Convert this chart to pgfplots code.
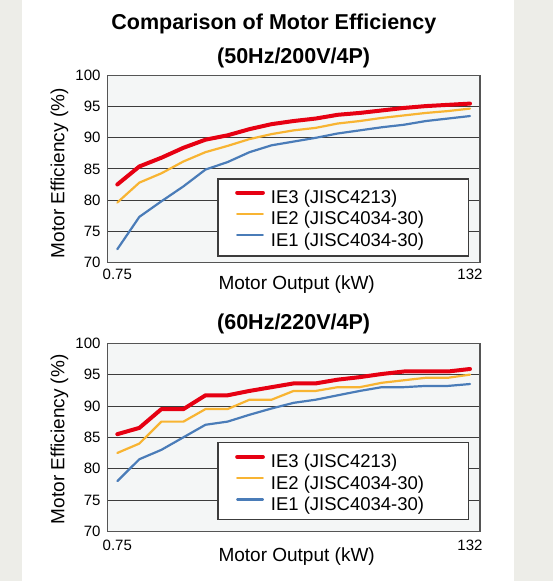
\documentclass[border=0pt]{standalone}
\usepackage{fontspec}
\setmainfont{Liberation Sans}
\usepackage{pgfplots}
\usepackage{pgfplotstable}
\pgfplotsset{compat=1.18}

\definecolor{ieiii}{RGB}{230,0,18}
\definecolor{ieii}{RGB}{248,180,50}
\definecolor{iei}{RGB}{74,124,184}
\definecolor{panelgray}{RGB}{237,237,232}
\definecolor{plotbg}{RGB}{244,246,246}
\definecolor{gridc}{RGB}{60,60,60}
\definecolor{framec}{RGB}{85,85,85}

% x = index of motor output (0 = 0.75 kW ... 16 = 132 kW)
\pgfplotstableread{
x ie3 ie2 ie1
0  82.5 79.6 72.1
1  85.4 82.8 77.3
2  86.8 84.3 79.8
3  88.4 86.2 82.2
4  89.7 87.7 84.9
5  90.4 88.7 86.1
6  91.4 89.8 87.7
7  92.2 90.6 88.8
8  92.7 91.2 89.4
9  93.1 91.6 90.0
10 93.7 92.3 90.7
11 94.0 92.7 91.2
12 94.4 93.2 91.7
13 94.8 93.6 92.1
14 95.1 94.0 92.7
15 95.3 94.3 93.1
16 95.5 94.7 93.5
}\fiftyhz

\pgfplotstableread{
x ie3 ie2 ie1
0  85.5 82.5 78.0
1  86.5 84.0 81.5
2  89.5 87.5 83.0
3  89.5 87.5 85.0
4  91.7 89.5 87.0
5  91.7 89.5 87.5
6  92.4 91.0 88.6
7  93.0 91.0 89.6
8  93.6 92.4 90.5
9  93.6 92.4 91.0
10 94.2 93.0 91.7
11 94.6 93.0 92.4
12 95.1 93.7 93.0
13 95.5 94.1 93.0
14 95.5 94.5 93.2
15 95.5 94.5 93.2
16 95.9 95.0 93.5
}\sixtyhz

\pgfplotsset{
  motor/.style={
    scale only axis, width=372.7pt,
    xmin=-0.454, xmax=16.454, ymin=70, ymax=100,
    ytick={70,75,80,85,90,95,100},
    xtick={0,16}, xticklabels={0.75,132},
    ymajorgrids, major grid style={gridc, line width=0.9pt},
    major tick length=0pt,
    axis line style={framec, line width=1.1pt},
    axis background/.style={fill=plotbg},
    /pgf/number format/assume math mode=true,
    tick label style={font=\fontsize{15}{15}\selectfont},
    yticklabel style={xshift=-3.3pt},
    label style={font=\fontsize{19}{19}\selectfont},
    title style={font=\fontsize{21.5}{21.5}\selectfont\bfseries, anchor=base},
    legend style={draw=none, fill=none, anchor=north west,
      font=\fontsize{18.5}{18.5}\selectfont, inner sep=0pt, column sep=6pt,
      nodes={inner sep=0pt, text height=15pt, text depth=6.3pt}},
    legend cell align=left,
    legend image code/.code={\draw[##1] (0pt,6.6pt) -- (25.7pt,6.6pt);},
    every axis plot/.append style={line join=round, line cap=round},
  },
  ie3s/.style={ieiii, line width=4pt},
  ie2s/.style={ieii, line width=2.2pt},
  ie1s/.style={iei, line width=2.2pt},
}

\begin{document}
\begin{tikzpicture}
\fill[panelgray] (0,0) rectangle (553pt,581pt);
\fill[white] (21.7pt,0) rectangle (514pt,581pt);
\useasboundingbox (0,0) rectangle (553pt,581pt);

\node[font=\fontsize{21.5}{21.5}\selectfont\bfseries, anchor=base] at (273.8pt,551.7pt) {Comparison of Motor Efficiency};

\begin{axis}[motor, height=186.7pt,
  at={(107.3pt,318.7pt)}, anchor=south west,
  title={(50Hz/200V/4P)},
  title style={at={([yshift=6pt]rel axis cs:0.5,1)}},
  xlabel={Motor Output (kW)},
  xlabel style={at={([xshift=3pt,yshift=-27pt]rel axis cs:0.5,0)}, anchor=base},
  ylabel={Motor Efficiency (\%)},
  ylabel style={at={([xshift=-43pt,yshift=-4.3pt]rel axis cs:0,0.5)}, anchor=base},
  xticklabel style={anchor=base, yshift=-17.7pt},
  legend style={at={(rel axis cs:0.3426,0.3964)}},
]
\addplot[ie3s] table[x=x, y=ie3] {\fiftyhz};
\addplot[ie2s] table[x=x, y=ie2] {\fiftyhz};
\addplot[ie1s] table[x=x, y=ie1] {\fiftyhz};
\draw[draw=gridc, line width=1.6pt, fill=white] (rel axis cs:0.2978,0.0337) rectangle (rel axis cs:0.9686,0.4446);
\legend{IE3 (JISC4213), IE2 (JISC4034-30), IE1 (JISC4034-30)}
\end{axis}

\begin{axis}[motor, height=188pt,
  at={(107.3pt,49.7pt)}, anchor=south west,
  title={(60Hz/220V/4P)},
  title style={at={([yshift=7.7pt]rel axis cs:0.5,1)}},
  xlabel={Motor Output (kW)},
  xlabel style={at={([xshift=3pt,yshift=-30.4pt]rel axis cs:0.5,0)}, anchor=base},
  ylabel={Motor Efficiency (\%)},
  ylabel style={at={([xshift=-43pt,yshift=-2pt]rel axis cs:0,0.5)}, anchor=base},
  xticklabel style={anchor=base, yshift=-18.7pt},
  legend style={at={(rel axis cs:0.3426,0.418)}},
]
\addplot[ie3s] table[x=x, y=ie3] {\sixtyhz};
\addplot[ie2s] table[x=x, y=ie2] {\sixtyhz};
\addplot[ie1s] table[x=x, y=ie1] {\sixtyhz};
\draw[draw=gridc, line width=1.6pt, fill=white] (rel axis cs:0.2978,0.0638) rectangle (rel axis cs:0.9686,0.4713);
\legend{IE3 (JISC4213), IE2 (JISC4034-30), IE1 (JISC4034-30)}
\end{axis}
\end{tikzpicture}
\end{document}
